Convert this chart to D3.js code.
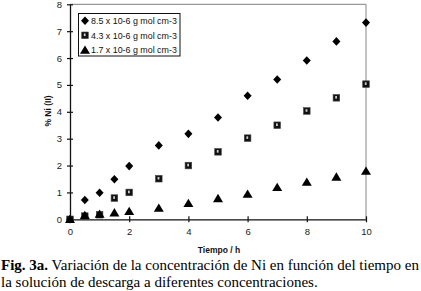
<!DOCTYPE html>
<html><head><meta charset="utf-8">
<script src="https://cdn.jsdelivr.net/npm/d3@7"></script>
<style>body{margin:0;background:#fff}svg{display:block}</style>
</head><body>
<svg id="c" width="421" height="291"></svg>
<script>
const seriesNames = ["8.5 x 10-6 g mol cm-3", "4.3 x 10-6 g mol cm-3", "1.7 x 10-6 g mol cm-3"];
const seriesShapes = ["diamond", "square", "triangle"];
const times = [0, 0.5, 1, 1.5, 2, 3, 4, 5, 6, 7, 8, 9, 10];
const high = [0, 0.72, 0.99, 1.49, 1.98, 2.75, 3.18, 3.79, 4.6, 5.2, 5.91, 6.62, 7.32];
const mid = [0, 0.12, 0.17, 0.79, 1.0, 1.51, 2.0, 2.51, 3.02, 3.5, 4.03, 4.52, 5.03];
const low = [0, 0.15, 0.2, 0.25, 0.3, 0.42, 0.6, 0.78, 0.94, 1.19, 1.39, 1.58, 1.8];
const xTicks = [0, 2, 4, 6, 8, 10];
const yTicks = [0, 1, 2, 3, 4, 5, 6, 7, 8];
const xLabel = "Tiempo / h";
const yLabel = "% Ni (II)";
const captionBold = "Fig. 3a.";
const captionLine1 = " Variación de la concentración de Ni en función del tiempo en";
const captionLine2 = "la solución de descarga a diferentes concentraciones.";

const svg = d3.select("#c");
const L = 70, R = 366, T = 4.3, B = 219.3;
const x = d3.scaleLinear().domain([0, 10]).range([L, R]);
const y = d3.scaleLinear().domain([0, 8]).range([B, T]);

// frame top/right
svg.append("line").attr("x1", L).attr("x2", R).attr("y1", T).attr("y2", T).attr("stroke", "#999").attr("stroke-width", 1.2);
svg.append("line").attr("x1", R).attr("x2", R).attr("y1", T).attr("y2", B).attr("stroke", "#999").attr("stroke-width", 1.2);

const fontAx = "Liberation Sans, Arial, sans-serif";
const yAxis = svg.append("g").attr("transform", `translate(${L},0)`)
  .call(d3.axisLeft(y).tickValues(yTicks).tickSize(3).tickPadding(5).tickSizeOuter(0));
yAxis.selectAll(".tick line").attr("x2", 6).attr("transform", "translate(-3,0)").attr("x1",0);
const xAxis = svg.append("g").attr("transform", `translate(0,${B})`)
  .call(d3.axisBottom(x).tickValues(xTicks).tickSize(3).tickPadding(6).tickSizeOuter(0));
xAxis.selectAll(".tick line").attr("y1", -3).attr("y2", 3);
[xAxis, yAxis].forEach(a => {
  a.select(".domain").attr("stroke", "#111").attr("stroke-width", 1.3);
  a.selectAll(".tick line").attr("stroke", "#111").attr("stroke-width", 1.2);
  a.selectAll("text").attr("font-family", fontAx).attr("font-size", 9.5).attr("fill", "#222");
});

svg.append("text").attr("x", 219).attr("y", 253).attr("text-anchor", "middle")
  .attr("font-family", fontAx).attr("font-size", 8.5).attr("font-weight", "bold").attr("fill", "#111").text(xLabel);
svg.append("text").attr("transform", `translate(51,111) rotate(-90)`).attr("text-anchor", "middle")
  .attr("font-family", fontAx).attr("font-size", 8.5).attr("font-weight", "bold").attr("fill", "#111").text(yLabel);

function marker(g, shape, cx, cy) {
  if (shape === "diamond") {
    g.append("path").attr("d", `M${cx},${cy-4.3}L${cx+4},${cy}L${cx},${cy+4.3}L${cx-4},${cy}Z`).attr("fill", "#000");
  } else if (shape === "square") {
    g.append("rect").attr("x", cx-3.3).attr("y", cy-3.3).attr("width", 6.6).attr("height", 6.6).attr("fill", "#111").attr("stroke","#444").attr("stroke-width",0.6);
    g.append("rect").attr("x", cx-1.2).attr("y", cy-1.8).attr("width", 1.8).attr("height", 2.6).attr("fill", "#ccc");
  } else {
    g.append("path").attr("d", `M${cx},${cy-4.5}L${cx+5},${cy+3.8}L${cx-5},${cy+3.8}Z`).attr("fill", "#000");
  }
}
const data = [high, mid, low];
const pts = svg.append("g");
data.forEach((vals, si) => {
  vals.forEach((v, i) => marker(pts, seriesShapes[si], x(times[i]), y(v)));
});

// legend
const lg = svg.append("g");
lg.append("rect").attr("x", 78.5).attr("y", 13.5).attr("width", 101.5).attr("height", 42.5).attr("fill", "#fff").attr("stroke", "#111").attr("stroke-width", 1);
seriesNames.forEach((n, i) => {
  const cy = 20.7 + i * 14.6;
  marker(lg, seriesShapes[i], 85, cy);
  lg.append("text").attr("x", 91).attr("y", cy + 3.2).attr("font-family", fontAx).attr("font-size", 8.9).attr("fill", "#111").text(n);
});

// caption
const capFont = "Liberation Serif, Times New Roman, serif";
const cap = svg.append("text").attr("x", 1).attr("y", 270).attr("font-family", capFont).attr("font-size", 15).attr("fill", "#000");
cap.append("tspan").attr("font-weight", "bold").text(captionBold);
cap.append("tspan").text(captionLine1);
svg.append("text").attr("x", 1).attr("y", 287).attr("font-family", capFont).attr("font-size", 15).attr("fill", "#000").text(captionLine2);
</script>
</body></html>
